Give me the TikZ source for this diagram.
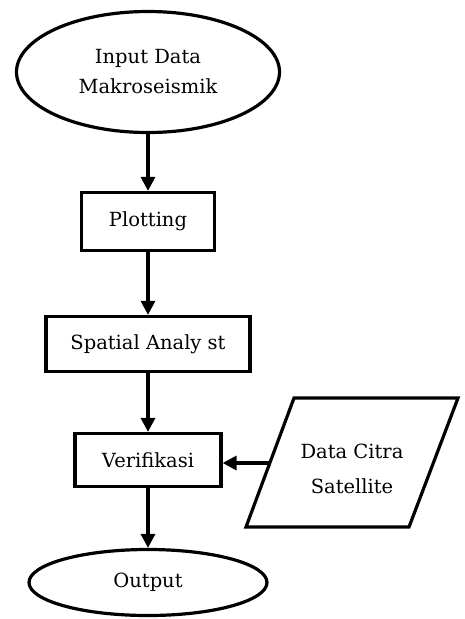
\documentclass[tikz,border=0pt]{standalone}
\usepackage{fontspec}
\setmainfont{DejaVu Serif}
\usetikzlibrary{shapes.geometric,arrows.meta}
\begin{document}
\begin{tikzpicture}[x=1pt,y=-1pt,line width=3.2pt,
  every node/.style={font=\fontsize{19.5}{30}\selectfont, align=center, inner sep=0pt},
  oval/.style={draw, ellipse},
  stepbox/.style={draw, rectangle},
  flow/.style={-{Triangle[length=14pt,width=14pt]}}]
\useasboundingbox (0,0) rectangle (464,619);
\node[oval, minimum width=263pt, minimum height=121pt] (inp) at (148,72) {Input Data\\Makroseismik};
\node[stepbox, minimum width=133pt, minimum height=58pt] (plot) at (148,221.5) {Plotting};
\node[stepbox, minimum width=204pt, minimum height=55pt] (spat) at (148,344) {Spatial Analy st};
\node[stepbox, minimum width=146pt, minimum height=53pt] (ver) at (148,460) {Verifikasi};
\node[oval, minimum width=238pt, minimum height=66pt] (out) at (148,582.5) {Output};
\draw[line join=miter] (294,398) -- (458,398) -- (409,527) -- (246,527) -- cycle;
\node[font=\fontsize{19.5}{35}\selectfont] (sat) at (352,469) {Data Citra\\Satellite};
\coordinate (satL) at (270,463);
\draw[flow] (inp.south) -- (plot.north);
\draw[flow] (plot.south) -- (spat.north);
\draw[flow] (spat.south) -- (ver.north);
\draw[flow] (ver.south) -- (out.north);
\draw[flow] (satL) -- (ver.east |- satL);
\end{tikzpicture}
\end{document}
